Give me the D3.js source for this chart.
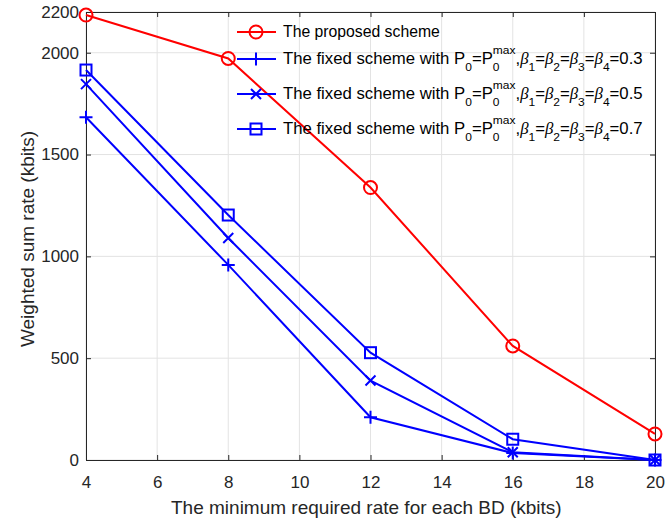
<!DOCTYPE html>
<html><head><meta charset="utf-8">
<script src="https://cdn.jsdelivr.net/npm/d3@7/dist/d3.min.js"></script>
<style>body{margin:0;background:#fff}svg{display:block;font-family:"Liberation Sans",Arial,sans-serif}</style>
</head><body><svg id="c" width="667" height="524"></svg>
<script>
const xValues = [4, 8, 12, 16, 20];
const proposed = [2185, 1972, 1338, 560, 128];
const fixed03 = [1683, 958, 210, 34, 0];
const fixed05 = [1846, 1090, 390, 38, 0];
const fixed07 = [1915, 1203, 527, 102, 0];
const xTicks = [4, 6, 8, 10, 12, 14, 16, 18, 20];
const yTicks = [0, 500, 1000, 1500, 2000, 2200];
const betas = ["0.3", "0.5", "0.7"];

const svg = d3.select("#c");
const L = 86, R = 655, T = 12, B = 460;
const x = d3.scaleLinear().domain([4, 20]).range([L, R]);
const y = d3.scaleLinear().domain([0, 2200]).range([B, T]);
const axisCol = "#262626";

// grid
const g = svg.append("g");
g.selectAll(".gx").data(xTicks).enter().append("line")
  .attr("x1", d => x(d)).attr("x2", d => x(d)).attr("y1", T).attr("y2", B)
  .attr("stroke", "#e3e3e3").attr("stroke-width", 1);
g.selectAll(".gy").data(yTicks).enter().append("line")
  .attr("x1", L).attr("x2", R).attr("y1", d => y(d)).attr("y2", d => y(d))
  .attr("stroke", "#e3e3e3").attr("stroke-width", 1);

// axes
const ax = svg.append("g").attr("transform", `translate(0,${B})`)
  .call(d3.axisBottom(x).tickValues(xTicks).tickSize(-5).tickPadding(16).tickFormat(d3.format("d")));
const ay = svg.append("g").attr("transform", `translate(${L},0)`)
  .call(d3.axisLeft(y).tickValues(yTicks).tickSize(-5).tickPadding(7).tickFormat(d3.format("d")));
const axT = svg.append("g").attr("transform", `translate(0,${T})`)
  .call(d3.axisTop(x).tickValues(xTicks).tickSize(-5).tickFormat(""));
const ayR = svg.append("g").attr("transform", `translate(${R},0)`)
  .call(d3.axisRight(y).tickValues(yTicks).tickSize(-5).tickFormat(""));
[ax, ay, axT, ayR].forEach(a => {
  a.select(".domain").attr("stroke", axisCol).attr("stroke-width", 1);
  a.selectAll(".tick line").attr("stroke", axisCol);
  a.selectAll("text").attr("fill", axisCol).style("font-size", "17px").style("font-family", "Liberation Sans, Arial, sans-serif");
});

// labels
svg.append("text").attr("x", 171).attr("y", 514).attr("text-anchor", "start")
  .attr("fill", axisCol).style("font-size", "19px").text("The minimum required rate for each BD (kbits)");
svg.append("text").attr("transform", `translate(34,239) rotate(-90)`).attr("text-anchor", "middle")
  .attr("fill", axisCol).style("font-size", "19px").text("Weighted sum rate (kbits)");

const red = "#ff0000", blue = "#0000ff";
const line = d3.line().x((d, i) => x(xValues[i])).y(d => y(d));

function marker(sel, type, color, cx, cy) {
  const gm = sel.append("g").attr("transform", `translate(${cx},${cy})`)
    .attr("fill", "none").attr("stroke", color).attr("stroke-width", 2);
  if (type === "o") gm.append("circle").attr("r", 6.5);
  if (type === "+") gm.append("path").attr("d", "M-6.5,0H6.5M0,-6.5V6.5");
  if (type === "x") gm.append("path").attr("d", "M-5,-5L5,5M-5,5L5,-5");
  if (type === "s") gm.append("rect").attr("x", -5.5).attr("y", -5.5).attr("width", 11).attr("height", 11);
}

const series = [
  {data: fixed03, color: blue, m: "+"},
  {data: fixed05, color: blue, m: "x"},
  {data: fixed07, color: blue, m: "s"},
  {data: proposed, color: red, m: "o"}
];
const pg = svg.append("g");
series.forEach(s => {
  pg.append("path").attr("d", line(s.data)).attr("fill", "none").attr("stroke", s.color).attr("stroke-width", 2);
  s.data.forEach((v, i) => marker(pg, s.m, s.color, x(xValues[i]), y(v)));
});

// legend
const lg = svg.append("g");
const legRows = [
  {m: "o", color: red, y: 32, w: 157},
  {m: "+", color: blue, y: 59, b: betas[0], w: 360},
  {m: "x", color: blue, y: 94, b: betas[1], w: 360},
  {m: "s", color: blue, y: 129, b: betas[2], w: 360}
];
legRows.forEach(r => {
  lg.append("line").attr("x1", 237).attr("x2", 276).attr("y1", r.y).attr("y2", r.y)
    .attr("stroke", r.color).attr("stroke-width", 2);
  marker(lg, r.m, r.color, 256, r.y);
  const tg = lg.append("g").attr("transform", `translate(283,${r.y + 5})`);
  const t = tg.append("text").attr("x", 0).attr("y", 0).attr("fill", "#000").style("font-size", "16px");
  if (!r.b) { t.text("The proposed scheme"); }
  else {
    // pieces: [text, kind] ; kind: n = normal, s = subscript, b = beta
    const pieces = [
      ["The fixed scheme with P", "n"], ["0", "s"], ["=P", "n"], ["0", "s0"], ["max", "sup"], [",", "n"],
      ["\u03B2", "b"], ["1", "s"], ["=", "n"], ["\u03B2", "b"], ["2", "s"], ["=", "n"],
      ["\u03B2", "b"], ["3", "s"], ["=", "n"], ["\u03B2", "b"], ["4", "s"], ["=" + r.b, "n"]
    ];
    let cur = 0; // current baseline offset
    pieces.forEach(([txt, kind]) => {
      let target = 0, dx = null;
      const sp = t.append("tspan").text(txt);
      if (kind === "s" || kind === "s0") { target = 7; sp.style("font-size", "11.5px"); }
      if (kind === "sup") { target = -10; sp.style("font-size", "11.5px"); dx = -6.4; }
      if (kind === "b") sp.style("font-style", "italic").style("font-family", "Liberation Serif, Times New Roman, serif");
      if (target !== cur) sp.attr("dy", target - cur);
      if (dx !== null) sp.attr("dx", dx);
      cur = target;
    });
  }
  const bw = t.node().getBBox().width;
  if (bw > 0) tg.attr("transform", `translate(283,${r.y + 5}) scale(${r.w / bw},1)`);
});
</script></body></html>
